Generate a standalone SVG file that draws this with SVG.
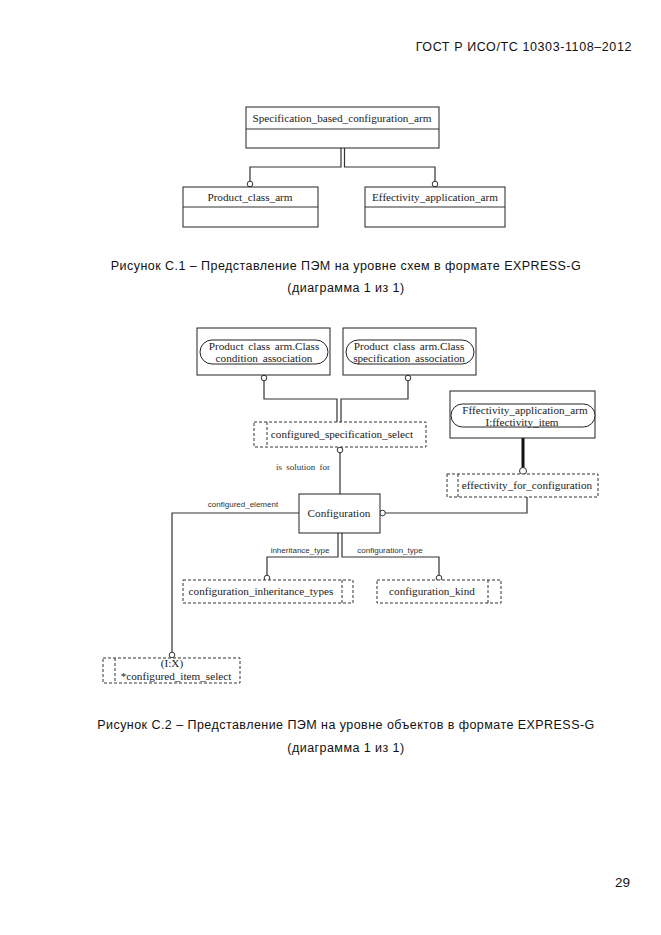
<svg xmlns="http://www.w3.org/2000/svg" width="661" height="935" viewBox="0 0 661 935">
<style>
.bg{fill:#fff}
.box{fill:#fff;stroke:#222;stroke-width:1}
.dbox{fill:#fff;stroke:#333;stroke-width:1;stroke-dasharray:3,2}
.dl{fill:none;stroke:#333;stroke-width:1;stroke-dasharray:3,2}
.ln{fill:none;stroke:#333;stroke-width:1.2}
.thick{fill:none;stroke:#111;stroke-width:3}
.circ{fill:#fff;stroke:#333;stroke-width:1}
.t{font-family:"Liberation Serif",serif;font-size:11.2px;fill:#222;text-anchor:middle}
.tb{font-family:"Liberation Serif",serif;font-size:11.2px;fill:#222;text-anchor:middle;word-spacing:2px}
.s{font-family:"Liberation Sans",sans-serif;font-size:8px;fill:#333;text-anchor:middle}
.ss{font-family:"Liberation Serif",serif;font-size:9px;fill:#333;text-anchor:middle;word-spacing:2px}
.cap{font-family:"Liberation Sans",sans-serif;font-size:12.5px;fill:#111;text-anchor:middle;letter-spacing:0.45px}
</style>
<rect class="bg" x="0" y="0" width="661" height="935"/>
<text x="632" y="51" font-family="Liberation Sans,sans-serif" font-size="12.5" letter-spacing="0.6" fill="#111" text-anchor="end">ГОСТ Р ИСО/ТС 10303-1108–2012</text>

<!-- Figure C.1 -->
<g id="c1-connectors">
  <path class="ln" d="M341 148 V167 H250 V184"/>
  <path class="ln" d="M344.5 148 V167 H435 V184"/>
  <circle class="circ" cx="250" cy="184" r="2.8"/>
  <circle class="circ" cx="435" cy="184" r="2.8"/>
</g>
<g id="spec_arm">
  <rect class="box" x="246" y="107" width="193" height="41"/>
  <line class="ln" x1="246" y1="129" x2="439" y2="129" stroke-width="1"/>
  <text class="t" x="342" y="122">Specification_based_configuration_arm</text>
</g>
<g id="product_class_arm">
  <rect class="box" x="183" y="187" width="135" height="40"/>
  <line class="ln" x1="183" y1="207" x2="318" y2="207" stroke-width="1"/>
  <text class="t" x="250" y="201">Product_class_arm</text>
</g>
<g id="effectivity_application_arm">
  <rect class="box" x="365" y="187" width="140" height="40"/>
  <line class="ln" x1="365" y1="207" x2="505" y2="207" stroke-width="1"/>
  <text class="t" x="435" y="201">Effectivity_application_arm</text>
</g>
<text class="cap" x="346" y="270">Рисунок  С.1 – Представление ПЭМ на уровне схем в формате EXPRESS-G</text>
<text class="cap" x="346" y="292">(диаграмма 1 из 1)</text>

<!-- Figure C.2 -->
<g id="c2-connectors">
  <path class="ln" d="M264 378 V399 H337 V422"/>
  <path class="ln" d="M408 378 V399 H341 V422"/>
  <circle class="circ" cx="264" cy="378" r="2.8"/>
  <circle class="circ" cx="408" cy="378" r="2.8"/>
  <path class="ln" d="M340 451 V494"/>
  <circle class="circ" cx="340" cy="450" r="2.8"/>
  <path class="thick" d="M523 438 V469"/>
  <circle class="circ" cx="523" cy="471" r="3.5" stroke-width="2.5" stroke="#111"/>
  <path class="ln" d="M527 497 V513 H385"/>
  <circle class="circ" cx="382.5" cy="513" r="2.8"/>
  <path class="ln" d="M299 513 H172 V652"/>
  <circle class="circ" cx="172" cy="655" r="2.8"/>
  <path class="ln" d="M338 533 V557 H267 V576"/>
  <path class="ln" d="M342 533 V557 H439 V576"/>
  <circle class="circ" cx="267" cy="578" r="2.8"/>
  <circle class="circ" cx="439" cy="578" r="2.8"/>
  <text class="ss" x="303" y="470">is solution for</text>
  <text class="s" x="243" y="507">configured_element</text>
  <text class="s" x="300" y="553">inheritance_type</text>
  <text class="s" x="390" y="553">configuration_type</text>
</g>
<g id="class_condition_association">
  <rect class="box" x="197" y="328" width="133" height="47"/>
  <rect class="box" x="200" y="340" width="128" height="24" rx="12" ry="12"/>
  <text class="tb" x="264" y="349.5">Product class arm.Class</text>
  <text class="tb" x="264" y="361.5">condition association</text>
</g>
<g id="class_specification_association">
  <rect class="box" x="343" y="328" width="133" height="47"/>
  <rect class="box" x="346" y="340" width="128" height="24" rx="12" ry="12"/>
  <text class="tb" x="409" y="349.5">Product class arm.Class</text>
  <text class="tb" x="409" y="361.5">specification association</text>
</g>
<g id="effectivity_item">
  <rect class="box" x="450" y="391" width="145" height="47"/>
  <rect class="box" x="451" y="404" width="144" height="23" rx="11.5" ry="11.5"/>
  <text class="t" x="525" y="414" font-size="11.7">Fffectivity_application_arm</text>
  <text class="t" x="522" y="425.5" font-size="11.7">I:ffectivity_item</text>
</g>
<g id="configured_specification_select">
  <rect class="dbox" x="254" y="422" width="172" height="25"/>
  <line class="dl" x1="267" y1="422" x2="267" y2="447"/>
  <text class="t" x="342" y="438">configured_specification_select</text>
</g>
<g id="effectivity_for_configuration">
  <rect class="dbox" x="447" y="474" width="151" height="23"/>
  <line class="dl" x1="458" y1="474" x2="458" y2="497"/>
  <text class="t" x="527" y="489">effectivity_for_configuration</text>
</g>
<g id="configuration">
  <rect class="box" x="299" y="494" width="81" height="39"/>
  <text class="t" x="339" y="517">Configuration</text>
</g>
<g id="configuration_inheritance_types">
  <rect class="dbox" x="183" y="580" width="170" height="23"/>
  <line class="dl" x1="342" y1="580" x2="342" y2="603"/>
  <text class="t" x="261" y="595">configuration_inheritance_types</text>
</g>
<g id="configuration_kind">
  <rect class="dbox" x="377" y="580" width="124" height="23"/>
  <line class="dl" x1="488" y1="580" x2="488" y2="603"/>
  <text class="t" x="432" y="595">configuration_kind</text>
</g>
<g id="configured_item_select">
  <rect class="dbox" x="103" y="658" width="137" height="25"/>
  <line class="dl" x1="115" y1="658" x2="115" y2="683"/>
  <text class="t" x="172" y="667">(I:X)</text>
  <text class="t" x="176" y="680">*configured_item_select</text>
</g>
<text class="cap" x="346" y="729" letter-spacing="0.5">Рисунок  С.2 – Представление ПЭМ на уровне объектов в формате EXPRESS-G</text>
<text class="cap" x="346" y="752">(диаграмма 1 из 1)</text>
<text x="630" y="887" font-family="Liberation Sans,sans-serif" font-size="13.5" fill="#111" text-anchor="end">29</text>
</svg>
